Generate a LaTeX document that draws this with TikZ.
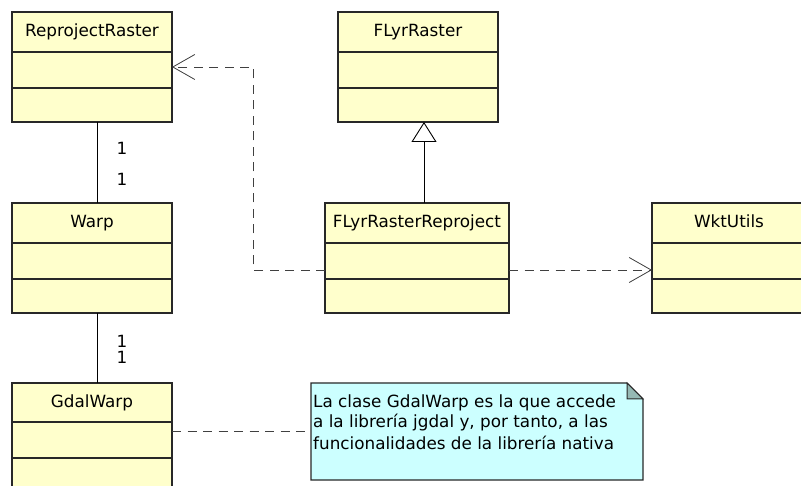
\documentclass[tikz,border=0pt]{standalone}
\usepackage{fontspec}
\setmainfont{DejaVu Sans}
\usetikzlibrary{arrows.meta}
\definecolor{clsfill}{RGB}{255,255,204}
\definecolor{notefill}{RGB}{204,255,255}
\definecolor{foldfill}{RGB}{150,185,180}
\definecolor{edgecol}{RGB}{40,40,40}
\newcommand\umlclass[8]{%
  \node[clsbox, minimum width={(#4-#2)*1pt}, minimum height={(#5-#3)*1pt}] (#1) at ({(#2+#4)/2},{(#3+#5)/2}) {};
  \draw[clsline] (#2,#6) -- (#4,#6) (#2,#7) -- (#4,#7);
  \node[lbl, anchor=base] (#1-name) at ({(#2+#4)/2},{#3+25}) {#8};
}
\begin{document}
\begin{tikzpicture}[x=1pt,y=-1pt,
  clsbox/.style={draw=edgecol, line width=1.2pt, fill=clsfill, inner sep=0pt, outer sep=0pt},
  clsline/.style={draw=edgecol, line width=1.2pt},
  lbl/.style={font=\fontsize{16.8}{21}\selectfont, inner sep=0pt, text=black},
  mult/.style={font=\fontsize{16.8}{21}\selectfont, inner sep=0pt, text=black, text height=11.5pt, text depth=0pt},
  assoc/.style={draw=black, line width=0.9pt},
  inh/.style={draw=black, line width=0.9pt, -{Triangle[length=20pt,width=25pt,fill=white,line width=0.9pt]}},
  dep/.style={draw=black!75, line width=0.9pt, dash pattern=on 9pt off 6.5pt, -{Straight Barb[length=22pt,width=25pt,line width=0.8pt]}},
  notelink/.style={draw=black!75, line width=0.9pt, dash pattern=on 9pt off 6.5pt},
  notebox/.style={draw=edgecol, line width=1.2pt, fill=notefill},
  foldbox/.style={draw=edgecol, line width=1pt, fill=foldfill}
]
\useasboundingbox (0,0) rectangle (801,486);
\clip (0,0) rectangle (801,486);
\fill[white] (0,0) rectangle (801,486);

\umlclass{rr}{12}{12}{172}{122}{52}{88}{ReprojectRaster}
\umlclass{fl}{338}{12}{498}{122}{52}{88}{FLyrRaster}
\umlclass{wp}{12}{203}{172}{313}{243}{279}{Warp}
\umlclass{flrr}{325}{203}{509}{313}{243}{279}{FLyrRasterReproject}
\umlclass{wkt}{652}{203}{806}{313}{243}{279}{WktUtils}
\umlclass{gw}{12}{383}{172}{493}{422}{458}{GdalWarp}

% note
\node[minimum width=332pt, minimum height=97pt, inner sep=0pt, outer sep=0pt] (note) at (477,431.5) {};
\filldraw[notebox] (note.north west) -- ([xshift=-16pt]note.north east) -- ([yshift=-16pt]note.north east) -- (note.south east) -- (note.south west) -- cycle;
\filldraw[foldbox] ([xshift=-16pt]note.north east) -- ([xshift=-16pt,yshift=-16pt]note.north east) -- ([yshift=-16pt]note.north east) -- cycle;
\node[lbl, anchor=base west] (nt1) at (313,407) {La clase GdalWarp es la que accede};
\node[lbl, anchor=base west] (nt2) at (313,428) {a la librería jgdal y, por tanto, a las};
\node[lbl, anchor=base west] (nt3) at (313,449.5) {funcionalidades de la librería nativa};

% associations
\draw[assoc] ([xshift=5pt]rr.south) -- ([xshift=5pt]wp.north);
\node[mult, anchor=base] (m1) at (122,155) {1};
\node[mult, anchor=base] (m2) at (122,186) {1};
\draw[assoc] ([xshift=5pt]wp.south) -- ([xshift=5pt]gw.north);
\node[mult, anchor=base] (m3) at (122,347.5) {1};
\node[mult, anchor=base] (m4) at (122,364) {1};

% generalization
\draw[inh] ([xshift=7pt]flrr.north) -- ([xshift=7pt]flrr.north |- fl.south);

% dependencies
\draw[dep] ([yshift=-12pt]flrr.west) -- ++(-72,0) |- (rr.east);
\draw[dep] ([yshift=-12pt]flrr.east) -- ([yshift=-12pt]flrr.east -| wkt.west);

% note link
\draw[notelink] (note.west -| gw.east) -- (note.west);
\end{tikzpicture}
\end{document}
